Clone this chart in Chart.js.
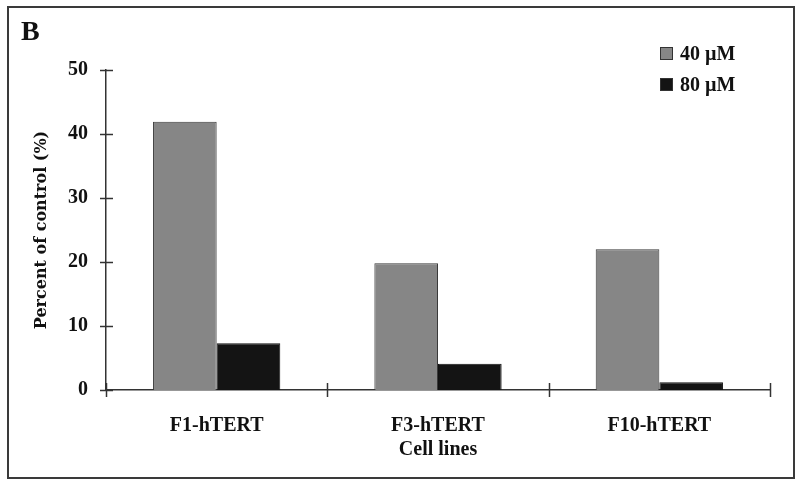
<!DOCTYPE html>
<html>
<head>
<meta charset="utf-8">
<script src="https://cdn.jsdelivr.net/npm/chart.js@4.4.1/dist/chart.umd.min.js"></script>
<style>
  html, body { margin: 0; padding: 0; background: #fff; }
  #wrap { position: relative; width: 800px; height: 485px; }
  #frame { position: absolute; left: 7px; top: 6px; width: 784px; height: 469px; border: 2px solid #3a3a3a; pointer-events: none; }
</style>
</head>
<body>
<div id="wrap">
  <canvas id="chart" width="800" height="485"></canvas>
  <div id="frame"></div>
</div>
<script>
const cellLines = ['F1-hTERT', 'F3-hTERT', 'F10-hTERT'];
const conc40 = [41.9, 19.8, 22.0];
const conc80 = [7.3, 4.1, 1.2];
const yTicks = [0, 10, 20, 30, 40, 50];

const serif = "'Liberation Serif', 'Times New Roman', serif";

// tick marks crossing the axes, legend and panel letter
const extras = {
  id: 'extras',
  afterDraw(chart) {
    const ctx = chart.ctx;
    const x = chart.scales.x, y = chart.scales.y;
    ctx.save();
    ctx.strokeStyle = '#333';
    ctx.lineWidth = 1.5;
    // y ticks
    y.ticks.forEach(t => {
      const py = Math.round(y.getPixelForValue(t.value)) + 0.5;
      ctx.beginPath();
      ctx.moveTo(x.left - 6, py);
      ctx.lineTo(x.left + 7, py);
      ctx.stroke();
    });
    // x ticks at category boundaries
    const step = (x.right - x.left) / cellLines.length;
    for (let i = 0; i <= cellLines.length; i++) {
      const px = Math.round(x.left + i * step) + 0.5;
      ctx.beginPath();
      ctx.moveTo(px, y.bottom - 7);
      ctx.lineTo(px, y.bottom + 7);
      ctx.stroke();
    }
    // panel letter
    ctx.fillStyle = '#111';
    ctx.font = 'bold 28px ' + serif;
    ctx.textBaseline = 'alphabetic';
    ctx.fillText('B', 21, 40);
    // legend
    ctx.font = 'bold 20px ' + serif;
    ctx.textBaseline = 'middle';
    chart.data.datasets.forEach((ds, i) => {
      const cy = 54 + i * 31;
      ctx.fillStyle = ds.backgroundColor;
      ctx.fillRect(660, cy - 7, 13, 13);
      ctx.lineWidth = 1;
      ctx.strokeStyle = '#333';
      ctx.strokeRect(660.5, cy - 6.5, 12, 12);
      ctx.fillStyle = '#111';
      ctx.fillText(ds.label, 680, cy + 1);
    });
    ctx.restore();
  }
};

new Chart(document.getElementById('chart'), {
  type: 'bar',
  data: {
    labels: cellLines,
    datasets: [
      {
        label: '40 \u00b5M',
        data: conc40,
        backgroundColor: '#868686',
        borderColor: '#3a3a3a',
        borderWidth: 1,
        barPercentage: 1,
        categoryPercentage: 0.575
      },
      {
        label: '80 \u00b5M',
        data: conc80,
        backgroundColor: '#141414',
        borderColor: '#111',
        borderWidth: 1,
        barPercentage: 1,
        categoryPercentage: 0.575
      }
    ]
  },
  options: {
    responsive: false,
    animation: false,
    layout: { padding: { left: 0, top: 70, right: 30, bottom: 0 } },
    plugins: {
      legend: { display: false },
      tooltip: { enabled: false }
    },
    scales: {
      x: {
        grid: { display: false, drawTicks: false },
        border: { display: true, color: '#333', width: 1.5 },
        afterFit: s => { s.height = 95; },
        ticks: {
          color: '#111',
          padding: 24,
          font: { family: serif, size: 20, weight: 'bold' }
        },
        title: {
          display: true,
          text: 'Cell lines',
          color: '#111',
          padding: { top: 0, bottom: 23 },
          font: { family: serif, size: 20, weight: 'bold' }
        }
      },
      y: {
        min: 0,
        max: 50,
        afterBuildTicks: s => { s.ticks = yTicks.map(v => ({ value: v })); },
        afterFit: s => { s.width = 106; },
        grid: { display: false, drawTicks: false },
        border: { display: true, color: '#333', width: 1.5 },
        ticks: {
          color: '#111',
          padding: 18,
          font: { family: serif, size: 20, weight: 'bold' }
        },
        title: {
          display: true,
          text: 'Percent of control (%)',
          color: '#111',
          padding: { top: 32, bottom: 0 },
          font: { family: "'DejaVu Serif', serif", size: 16, weight: 'bold' }
        }
      }
    }
  },
  plugins: [extras]
});
</script>
</body>
</html>
